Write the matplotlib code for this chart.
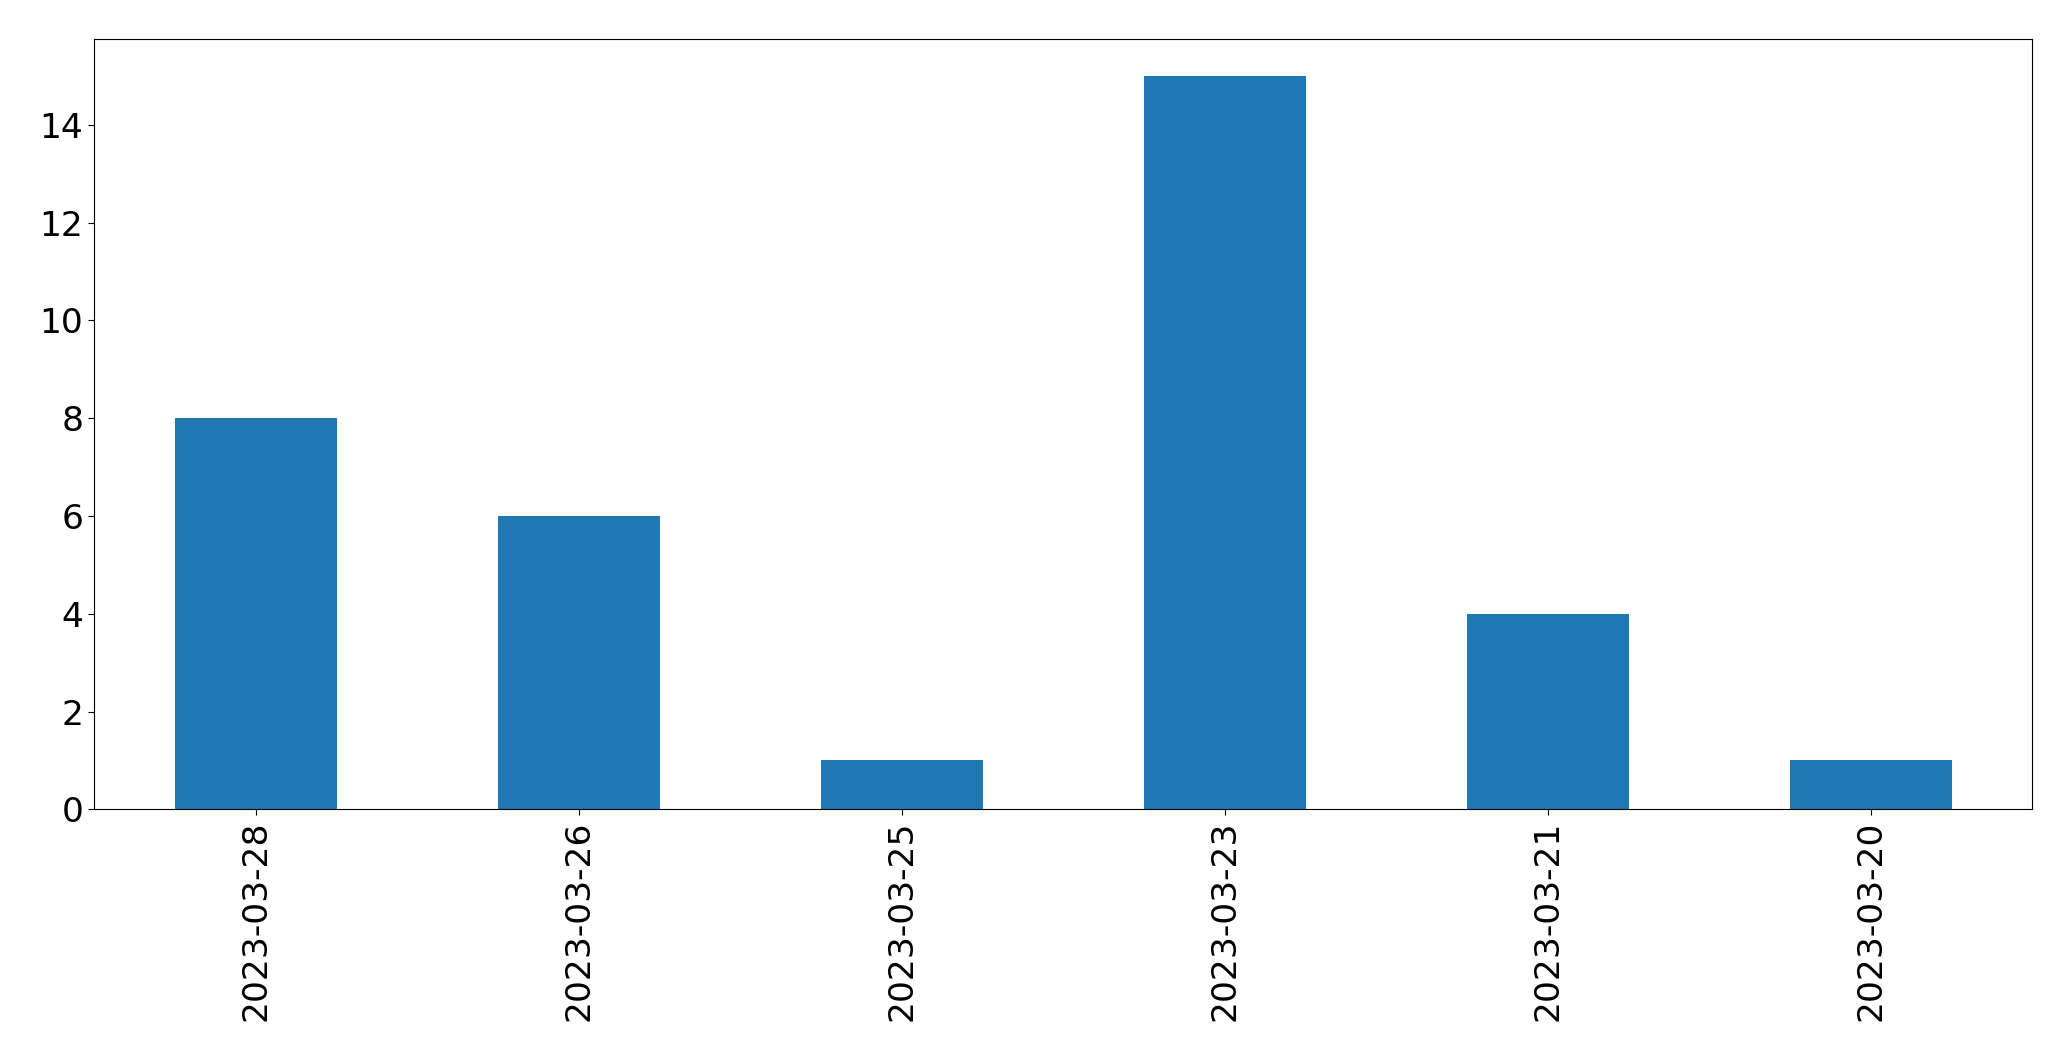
import matplotlib
matplotlib.use("Agg")
import matplotlib.pyplot as plt
import numpy as np

dates = ["2023-03-28", "2023-03-26", "2023-03-25", "2023-03-23", "2023-03-21", "2023-03-20"]
counts = [8, 6, 1, 15, 4, 1]

fig = plt.figure(figsize=(20.71, 10.6105), dpi=100)
ax = fig.add_axes([94.3 / 2071, (1061 - 809.3) / 1061, 1938 / 2071, 770 / 1061])
x = np.arange(len(dates))
ax.bar(x, counts, width=0.5, color="#1f77b4")
ax.set_xlim(-0.5, len(dates) - 0.5)
ax.set_ylim(0, max(counts) * 1.05)
ax.set_xticks(x)
ax.set_xticklabels(dates, rotation=90)
ax.set_yticks(np.arange(0, 15, 2))
ax.tick_params(labelsize=24.8, length=4.5)
fig.savefig("out.png", dpi=100)
